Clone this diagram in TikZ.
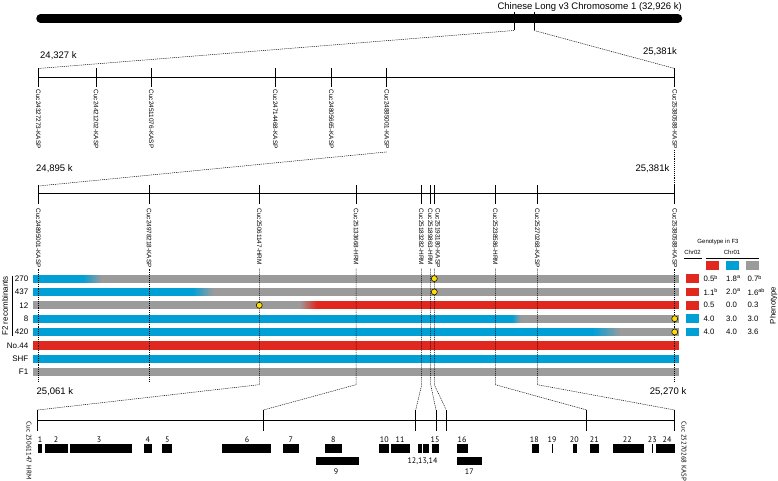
\documentclass[tikz,border=0pt]{standalone}
\usepackage{fontspec}
\setmainfont{Liberation Sans}
\newfontfamily\genefont{PT Sans}
\usetikzlibrary{calc}
\definecolor{cblue}{RGB}{0,159,214}
\definecolor{cred}{RGB}{224,40,30}
\definecolor{cgray}{RGB}{155,155,155}
\definecolor{cyellow}{RGB}{255,222,0}
\newcommand\hbarrow[5]{%
  \fill[#2] (33,#1-4.1) rectangle (#3+0.4,#1+4.1);
  \fill[#5] (#4-0.4,#1-4.1) rectangle (679.3,#1+4.1);
  \foreach \k in {0,...,23}{%
    \pgfmathsetmacro\pp{100-(\k+0.5)*100/24}%
    \pgfmathsetmacro\xa{#3+\k*(#4-#3)/24}%
    \pgfmathsetmacro\xb{#3+(\k+1)*(#4-#3)/24+0.25}%
    \fill[#2!\pp!#5] (\xa,#1-4.1) rectangle (\xb,#1+4.1);
  }}
\begin{document}
\begin{tikzpicture}[x=1pt,y=-1pt,
  ax/.style={line width=0.8pt},
  dl/.style={line width=0.5pt,dash pattern=on 1pt off 0.9pt},
  mk/.style={font=\fontsize{6.4}{7}\selectfont,rotate=-90,anchor=west,inner sep=0pt},
  kb/.style={font=\fontsize{9.5}{10}\selectfont,inner sep=0pt},
  rowlab/.style={font=\fontsize{8}{9}\selectfont,anchor=east,inner sep=0pt},
  dot/.style={circle,fill=cyellow,draw=black,line width=0.5pt,minimum size=6pt,inner sep=0pt},
  gene/.style={fill=black},
  glab/.style={font=\genefont\fontsize{8}{9}\selectfont,inner sep=0pt},
  val/.style={font=\fontsize{7.8}{8}\selectfont,anchor=west,inner sep=0pt},
  leg/.style={font=\fontsize{6}{7}\selectfont,inner sep=0pt}]
\useasboundingbox (0,0) rectangle (778,481);

% ---- chromosome
\draw[line width=8.5pt,line cap=round] (40.5,18.5) coordinate (chrL) -- (678,18.5) coordinate (chrR);
\node[anchor=base east,kb] (title) at (682,9.3) {Chinese Long v3 Chromosome 1 (32,926 k)};
\draw[ax] (514,12) -- (514,30.5) coordinate (tb1);
\draw[ax] (534,12) -- (534,30.5) coordinate (tb2);

% ---- axis 1
\draw[ax] (38.3,77.3) coordinate (ax1L) -- (674.7,77.3) coordinate (ax1R);
\foreach \x/\n [count=\i] in {38.3/Cuc24327273-KASP,96/Cuc24421202-KASP,151.3/Cuc24511076-KASP,275.3/Cuc24714468-KASP,331.3/Cuc24805665-KASP,386.7/Cuc24885001-KASP,674.7/Cuc25380588-KASP}{
  \draw[ax] (\x,68.5) coordinate (a\i t) -- (\x,87.5);
  \node[mk] (a\i) at (\x,89.5) {\n};
}
\draw[dl] (tb1) -- (a1t);
\draw[dl] (tb2) -- (a7t);
\node[kb,anchor=west] (k1) at (40,56) {24,327 k};
\node[kb,anchor=east] (k2) at (677,52) {25,381k};

% ---- axis 2
\draw[ax] (38.3,193) coordinate (ax2L) -- (674.7,193) coordinate (ax2R);
\foreach \x/\lx/\n [count=\i] in {38.3/38.3/Cuc24895001-KASP,149/149/Cuc24978218-KASP,259.3/259.3/Cuc25061147-HRM,356/356/Cuc25133668-HRM,421.7/421.3/Cuc25183282-HRM,430.7/430.4/Cuc25189863-HRM,434.3/437.7/Cuc25193180-KASP,495.3/495.3/Cuc25238586-HRM,537.3/537.3/Cuc25270268-KASP,674.7/674.7/Cuc25380588-KASP}{
  \draw[ax] (\x,185) coordinate (b\i t) -- (\x,204);
  \node[mk] (b\i) at (\lx,208.5) {\n};
}
\draw[dl] ($(a6.east)+(0,3)$) -- ($(b1t)+(0,1)$);
\draw[dl] ($(a7.east)+(0,1)$) -- (b10t);
\node[kb,anchor=west] (k3) at (36,168.3) {24,895 k};
\node[kb,anchor=east] (k4) at (669.5,168.3) {25,381k};

% ---- bars
\hbarrow{278.6}{cblue}{83}{102}{cgray}
\hbarrow{291.9}{cblue}{193}{213.5}{cgray}
\hbarrow{305.3}{cgray}{300}{317}{cred}
\hbarrow{318.7}{cblue}{512.5}{521}{cgray}
\hbarrow{332.0}{cblue}{593}{621}{cgray}
\fill[cred] (33,345.4-4.1) rectangle (679.3,345.4+4.1);
\fill[cblue] (33,358.7-4.1) rectangle (679.3,358.7+4.1);
\fill[cgray] (33,372.0-4.1) rectangle (679.3,372.0+4.1);

\node[rowlab] (r1) at (28.5,278.6) {270};
\node[rowlab] (r2) at (28.5,291.9) {437};
\node[rowlab] (r3) at (28.5,305.3) {12};
\node[rowlab] (r4) at (28.5,318.7) {8};
\node[rowlab] (r5) at (28.5,332.0) {420};
\node[rowlab] (r6) at (28.5,345.4) {No.44};
\node[rowlab] (r7) at (28.5,358.7) {SHF};
\node[rowlab] (r8) at (28.5,372.0) {F1};
\draw[line width=0.8pt] (12.3,275.7) coordinate (f2t) -- (12.3,336) coordinate (f2b);
\node[font=\fontsize{8}{9}\selectfont,rotate=90,inner sep=0pt] (f2) at (5,305.8) {F2 recombinants};

% ---- bottom axis
\draw[ax] (37.7,420.7) coordinate (ax3L) -- (674.7,420.7) coordinate (ax3R);
\foreach \x [count=\i] in {37.7,263.3,415.7,436,446.3,586.7,674.7}{
  \draw[ax] (\x,410) coordinate (c\i t) -- (\x,431);
}

% ---- dashed marker lines
\draw[dl] (38.3,268.5) -- (38.3,382);
\draw[dl] (149,268.5) -- (149,382);
\draw[dl] (674.7,268.5) -- (674.7,382);
\draw[dl] (259.3,268.5) -- (259.3,384.7) -- (c1t);
\draw[dl] (356,268.5) -- (356,384.7) -- (c2t);
\draw[dl] (421.7,268.5) -- (421.7,384.7) -- (c3t);
\draw[dl] (430.7,268.5) -- (430.7,384.7) -- (c4t);
\draw[dl] (434.3,268.5) -- (434.3,384.7) -- (c5t);
\draw[dl] (495.3,268.5) -- (495.3,384.7) -- (c6t);
\draw[dl] (537.3,268.5) -- (537.3,384.7) -- (c7t);

\node[dot] (d1) at (434.3,278.6) {};
\node[dot] (d2) at (434.3,291.9) {};
\node[dot] (d3) at (259.3,305.3) {};
\node[dot] (d4) at (674.7,318.7) {};
\node[dot] (d5) at (674.7,332.0) {};

\node[kb,anchor=west] (k5) at (36.5,391.3) {25,061 k};
\node[kb,anchor=east] (k6) at (686.5,391.3) {25,270 k};

% ---- legend / phenotype
\node[leg] (gt) at (718,242.2) {Genotype in F3};
\node[leg] (c02) at (692.5,252.5) {Chr02};
\node[leg] (c01) at (732,252.5) {Chr01};
\draw[line width=0.6pt] (684,258.3) -- (701.5,258.3);
\draw[line width=0.6pt] (705.5,258.3) -- (759,258.3);
\fill[cred] (706.3,261.3) rectangle (719,269.5);
\fill[cblue] (726,261.3) rectangle (739,269.5);
\fill[cgray] (746,261.3) rectangle (759,269.5);
\foreach \y/\c in {278.6/cred,291.9/cred,305.3/cred,318.7/cblue,332.0/cblue}{
  \fill[\c] (686,\y-4.4) rectangle (699.3,\y+4.4);
}
\foreach \y/\a/\b/\cc [count=\i] in {278.6/0.5\textsuperscript{b}/1.8\textsuperscript{a}/0.7\textsuperscript{b},291.9/1.1\textsuperscript{b}/2.0\textsuperscript{a}/1.6\textsuperscript{ab},305.3/0.5/0.0/0.3,318.7/4.0/3.0/3.0,332.0/4.0/4.0/3.6}{
  \node[val] (v\i a) at (703.3,\y) {\a};
  \node[val] (v\i b) at (726,\y) {\b};
  \node[val] (v\i c) at (747.3,\y) {\cc};
}
\node[font=\fontsize{7.8}{9}\selectfont,rotate=90,inner sep=0pt] (ph) at (773.5,305.5) {Phenotype};

% ---- genes
\foreach \n/\xa/\xb/\lx in {1/37.7/42.3/40,2/44.7/67.7/56,3/70/132.3/99,4/143.7/152.3/147.7,5/162/171.7/167.3,6/222/271.3/247,7/282.7/299/290.7,8/325.3/342.3/333.3,10/379.3/389.3/384.3,11/391/410/400,15/432.3/439.3/435,16/457.3/468/462,18/531.7/538.7/534.3,19/551.7/552.7/552,20/572.7/577.3/574.3,21/590.3/598.7/594.3,22/613.3/644/627.3,23/652/653.3/652.3,24/656.3/674.7/667}{
  \fill[gene] (\xa,444.3) rectangle (\xb,452.7);
  \node[glab] (g\n) at (\lx,439.3) {\n};
}
\fill[gene] (417.7,444.3) rectangle (422.3,452.7);
\fill[gene] (422.9,444.3) rectangle (425.7,452.7);
\fill[gene] (426.3,444.3) rectangle (428.5,452.7);
\node[glab] (g121314) at (422.5,461) {12,13,14};
\fill[gene] (315.7,456.7) rectangle (359.3,464.7);
\node[glab] (g9) at (336,471.5) {9};
\fill[gene] (456.7,456.7) rectangle (482.3,464.7);
\node[glab] (g17) at (469.3,471.5) {17};

\node[mk,font=\genefont\fontsize{6.8}{7}\selectfont] (bl) at (29,421.5) {Cuc 25061147 HRM};
\node[mk,font=\genefont\fontsize{6.8}{7}\selectfont] (br) at (684,421.5) {Cuc 25270268 KASP};
\end{tikzpicture}
\end{document}
